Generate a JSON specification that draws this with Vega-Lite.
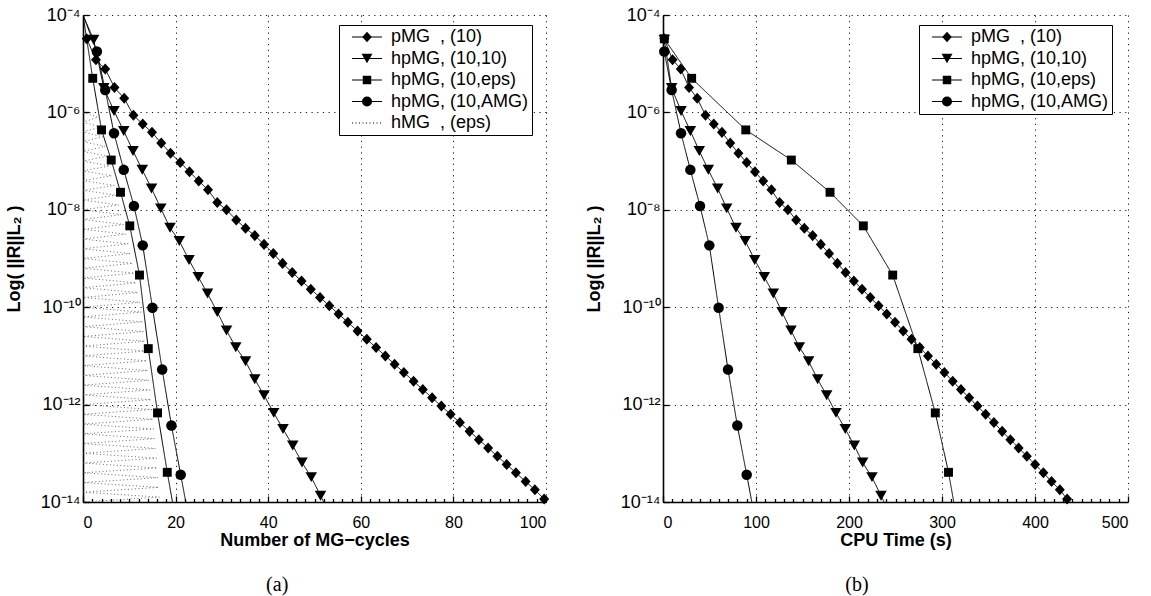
{
  "$schema": "https://vega.github.io/schema/vega-lite/v6.json",
  "background": "white",
  "padding": {"left": 5, "top": 6, "right": 5, "bottom": 5},
  "config": {
    "view": {"stroke": null},
    "font": "Liberation Sans",
    "axis": {"domainColor": "black", "domainWidth": 1.6, "tickColor": "black", "tickWidth": 1.3, "labelFont": "Liberation Sans", "labelFontSize": 16, "labelColor": "black", "titleFont": "Liberation Sans", "titleFontSize": 18, "titleFontWeight": "bold", "titleColor": "black", "gridColor": "black", "gridDash": [1.2, 4.5], "gridWidth": 1, "gridOpacity": 0.9},
    "legend": {"padding": 3, "rowPadding": 3.5, "labelFont": "Liberation Sans", "labelFontSize": 18, "labelColor": "black", "labelOffset": 15, "symbolSize": 100, "symbolStrokeWidth": 1, "symbolOffset": 16}
  },
  "datasets": {
    "leftData": [
      {"series": "pMG\u00a0\u00a0, (10)", "x": 0.8, "y": 3.24e-5}, {"series": "pMG\u00a0\u00a0, (10)", "x": 2.8, "y": 1.2e-5}, {"series": "pMG\u00a0\u00a0, (10)", "x": 4.8, "y": 7.76e-6}, {"series": "pMG\u00a0\u00a0, (10)", "x": 6.8, "y": 3.24e-6}, {"series": "pMG\u00a0\u00a0, (10)", "x": 8.9, "y": 1.95e-6}, {"series": "pMG\u00a0\u00a0, (10)", "x": 10.9, "y": 8.71e-7}, {"series": "pMG\u00a0\u00a0, (10)", "x": 12.9, "y": 5.75e-7}, {"series": "pMG\u00a0\u00a0, (10)", "x": 14.9, "y": 3.89e-7}, {"series": "pMG\u00a0\u00a0, (10)", "x": 16.9, "y": 2.34e-7}, {"series": "pMG\u00a0\u00a0, (10)", "x": 18.9, "y": 1.45e-7},
      {"series": "pMG\u00a0\u00a0, (10)", "x": 21.0, "y": 9.33e-8}, {"series": "pMG\u00a0\u00a0, (10)", "x": 23.0, "y": 6.03e-8}, {"series": "pMG\u00a0\u00a0, (10)", "x": 25.0, "y": 3.89e-8}, {"series": "pMG\u00a0\u00a0, (10)", "x": 27.0, "y": 2.57e-8}, {"series": "pMG\u00a0\u00a0, (10)", "x": 29.0, "y": 1.41e-8}, {"series": "pMG\u00a0\u00a0, (10)", "x": 31.0, "y": 1.0e-8}, {"series": "pMG\u00a0\u00a0, (10)", "x": 33.1, "y": 6.17e-9}, {"series": "pMG\u00a0\u00a0, (10)", "x": 35.1, "y": 4.17e-9}, {"series": "pMG\u00a0\u00a0, (10)", "x": 37.1, "y": 2.95e-9}, {"series": "pMG\u00a0\u00a0, (10)", "x": 39.1, "y": 1.95e-9},
      {"series": "pMG\u00a0\u00a0, (10)", "x": 41.1, "y": 1.26e-9}, {"series": "pMG\u00a0\u00a0, (10)", "x": 43.1, "y": 7.94e-10}, {"series": "pMG\u00a0\u00a0, (10)", "x": 45.2, "y": 5.13e-10}, {"series": "pMG\u00a0\u00a0, (10)", "x": 47.2, "y": 3.47e-10}, {"series": "pMG\u00a0\u00a0, (10)", "x": 49.2, "y": 2.34e-10}, {"series": "pMG\u00a0\u00a0, (10)", "x": 51.2, "y": 1.585e-10}, {"series": "pMG\u00a0\u00a0, (10)", "x": 53.2, "y": 1.07e-10}, {"series": "pMG\u00a0\u00a0, (10)", "x": 55.2, "y": 7.24e-11}, {"series": "pMG\u00a0\u00a0, (10)", "x": 57.2, "y": 4.9e-11}, {"series": "pMG\u00a0\u00a0, (10)", "x": 59.3, "y": 3.24e-11},
      {"series": "pMG\u00a0\u00a0, (10)", "x": 61.3, "y": 2.19e-11}, {"series": "pMG\u00a0\u00a0, (10)", "x": 63.3, "y": 1.48e-11}, {"series": "pMG\u00a0\u00a0, (10)", "x": 65.3, "y": 1.0e-11}, {"series": "pMG\u00a0\u00a0, (10)", "x": 67.3, "y": 6.76e-12}, {"series": "pMG\u00a0\u00a0, (10)", "x": 69.3, "y": 4.57e-12}, {"series": "pMG\u00a0\u00a0, (10)", "x": 71.4, "y": 3.02e-12}, {"series": "pMG\u00a0\u00a0, (10)", "x": 73.4, "y": 2.04e-12}, {"series": "pMG\u00a0\u00a0, (10)", "x": 75.4, "y": 1.38e-12}, {"series": "pMG\u00a0\u00a0, (10)", "x": 77.4, "y": 9.33e-13}, {"series": "pMG\u00a0\u00a0, (10)", "x": 79.4, "y": 6.31e-13},
      {"series": "pMG\u00a0\u00a0, (10)", "x": 81.4, "y": 4.27e-13}, {"series": "pMG\u00a0\u00a0, (10)", "x": 83.5, "y": 2.82e-13}, {"series": "pMG\u00a0\u00a0, (10)", "x": 85.5, "y": 1.905e-13}, {"series": "pMG\u00a0\u00a0, (10)", "x": 87.5, "y": 1.29e-13}, {"series": "pMG\u00a0\u00a0, (10)", "x": 89.5, "y": 8.71e-14}, {"series": "pMG\u00a0\u00a0, (10)", "x": 91.5, "y": 5.89e-14}, {"series": "pMG\u00a0\u00a0, (10)", "x": 93.5, "y": 3.98e-14}, {"series": "pMG\u00a0\u00a0, (10)", "x": 95.6, "y": 2.63e-14}, {"series": "pMG\u00a0\u00a0, (10)", "x": 97.6, "y": 1.78e-14}, {"series": "pMG\u00a0\u00a0, (10)", "x": 99.6, "y": 1.15e-14},
      {"series": "hpMG, (10,10)", "x": 0, "y": 1e-4}, {"series": "hpMG, (10,10)", "x": 2.3, "y": 3.09e-5}, {"series": "hpMG, (10,10)", "x": 4.5, "y": 3.16e-6}, {"series": "hpMG, (10,10)", "x": 6.7, "y": 1.07e-6}, {"series": "hpMG, (10,10)", "x": 8.8, "y": 4.17e-7}, {"series": "hpMG, (10,10)", "x": 10.8, "y": 1.62e-7}, {"series": "hpMG, (10,10)", "x": 12.8, "y": 6.61e-8}, {"series": "hpMG, (10,10)", "x": 14.8, "y": 2.75e-8}, {"series": "hpMG, (10,10)", "x": 16.8, "y": 1.07e-8}, {"series": "hpMG, (10,10)", "x": 18.8, "y": 4.27e-9},
      {"series": "hpMG, (10,10)", "x": 20.8, "y": 2.29e-9}, {"series": "hpMG, (10,10)", "x": 22.9, "y": 9.33e-10}, {"series": "hpMG, (10,10)", "x": 24.9, "y": 4.17e-10}, {"series": "hpMG, (10,10)", "x": 26.9, "y": 1.905e-10}, {"series": "hpMG, (10,10)", "x": 29.0, "y": 7.94e-11}, {"series": "hpMG, (10,10)", "x": 31.0, "y": 3.31e-11}, {"series": "hpMG, (10,10)", "x": 33.0, "y": 1.51e-11}, {"series": "hpMG, (10,10)", "x": 35.1, "y": 7.76e-12}, {"series": "hpMG, (10,10)", "x": 37.1, "y": 3.31e-12}, {"series": "hpMG, (10,10)", "x": 39.1, "y": 1.55e-12},
      {"series": "hpMG, (10,10)", "x": 41.2, "y": 6.76e-13}, {"series": "hpMG, (10,10)", "x": 43.2, "y": 3.16e-13}, {"series": "hpMG, (10,10)", "x": 45.3, "y": 1.445e-13}, {"series": "hpMG, (10,10)", "x": 47.3, "y": 6.46e-14}, {"series": "hpMG, (10,10)", "x": 49.3, "y": 3.24e-14}, {"series": "hpMG, (10,10)", "x": 51.3, "y": 1.35e-14}, {"series": "hpMG, (10,10)", "x": 53.3, "y": 5.6e-15},
      {"series": "hpMG, (10,eps)", "x": 0, "y": 1e-4}, {"series": "hpMG, (10,eps)", "x": 2.1, "y": 5.01e-6}, {"series": "hpMG, (10,eps)", "x": 4.0, "y": 4.37e-7}, {"series": "hpMG, (10,eps)", "x": 6.1, "y": 1.05e-7}, {"series": "hpMG, (10,eps)", "x": 8.1, "y": 2.29e-8}, {"series": "hpMG, (10,eps)", "x": 10.1, "y": 4.68e-9}, {"series": "hpMG, (10,eps)", "x": 12.2, "y": 4.57e-10}, {"series": "hpMG, (10,eps)", "x": 14.1, "y": 1.41e-11}, {"series": "hpMG, (10,eps)", "x": 16.1, "y": 6.76e-13}, {"series": "hpMG, (10,eps)", "x": 18.2, "y": 4.07e-14}, {"series": "hpMG, (10,eps)", "x": 19.7, "y": 6.3e-15},
      {"series": "hpMG, (10,AMG)", "x": 0, "y": 1e-4}, {"series": "hpMG, (10,AMG)", "x": 3.0, "y": 1.78e-5}, {"series": "hpMG, (10,AMG)", "x": 4.8, "y": 2.88e-6}, {"series": "hpMG, (10,AMG)", "x": 6.7, "y": 3.72e-7}, {"series": "hpMG, (10,AMG)", "x": 8.8, "y": 6.61e-8}, {"series": "hpMG, (10,AMG)", "x": 11.0, "y": 1.2e-8}, {"series": "hpMG, (10,AMG)", "x": 12.9, "y": 1.86e-9}, {"series": "hpMG, (10,AMG)", "x": 15.0, "y": 9.77e-11}, {"series": "hpMG, (10,AMG)", "x": 17.1, "y": 5.25e-12}, {"series": "hpMG, (10,AMG)", "x": 19.1, "y": 3.72e-13}, {"series": "hpMG, (10,AMG)", "x": 21.1, "y": 3.63e-14}, {"series": "hpMG, (10,AMG)", "x": 23.1, "y": 3.5e-15}
    ],
    "rightData": [
      {"series": "pMG\u00a0\u00a0, (10)", "x": 1.4, "y": 3.24e-5}, {"series": "pMG\u00a0\u00a0, (10)", "x": 10.3, "y": 1.2e-5}, {"series": "pMG\u00a0\u00a0, (10)", "x": 19.1, "y": 7.76e-6}, {"series": "pMG\u00a0\u00a0, (10)", "x": 28.0, "y": 3.24e-6}, {"series": "pMG\u00a0\u00a0, (10)", "x": 36.8, "y": 1.95e-6}, {"series": "pMG\u00a0\u00a0, (10)", "x": 45.7, "y": 8.71e-7}, {"series": "pMG\u00a0\u00a0, (10)", "x": 54.6, "y": 5.75e-7}, {"series": "pMG\u00a0\u00a0, (10)", "x": 63.4, "y": 3.89e-7}, {"series": "pMG\u00a0\u00a0, (10)", "x": 72.3, "y": 2.34e-7}, {"series": "pMG\u00a0\u00a0, (10)", "x": 81.1, "y": 1.45e-7},
      {"series": "pMG\u00a0\u00a0, (10)", "x": 90.0, "y": 9.33e-8}, {"series": "pMG\u00a0\u00a0, (10)", "x": 98.9, "y": 6.03e-8}, {"series": "pMG\u00a0\u00a0, (10)", "x": 107.7, "y": 3.89e-8}, {"series": "pMG\u00a0\u00a0, (10)", "x": 116.6, "y": 2.57e-8}, {"series": "pMG\u00a0\u00a0, (10)", "x": 125.4, "y": 1.41e-8}, {"series": "pMG\u00a0\u00a0, (10)", "x": 134.3, "y": 1.0e-8}, {"series": "pMG\u00a0\u00a0, (10)", "x": 143.2, "y": 6.17e-9}, {"series": "pMG\u00a0\u00a0, (10)", "x": 152.0, "y": 4.17e-9}, {"series": "pMG\u00a0\u00a0, (10)", "x": 160.9, "y": 2.95e-9}, {"series": "pMG\u00a0\u00a0, (10)", "x": 169.7, "y": 1.95e-9},
      {"series": "pMG\u00a0\u00a0, (10)", "x": 178.6, "y": 1.26e-9}, {"series": "pMG\u00a0\u00a0, (10)", "x": 187.5, "y": 7.94e-10}, {"series": "pMG\u00a0\u00a0, (10)", "x": 196.3, "y": 5.13e-10}, {"series": "pMG\u00a0\u00a0, (10)", "x": 205.2, "y": 3.47e-10}, {"series": "pMG\u00a0\u00a0, (10)", "x": 214.0, "y": 2.34e-10}, {"series": "pMG\u00a0\u00a0, (10)", "x": 222.9, "y": 1.585e-10}, {"series": "pMG\u00a0\u00a0, (10)", "x": 231.8, "y": 1.07e-10}, {"series": "pMG\u00a0\u00a0, (10)", "x": 240.6, "y": 7.24e-11}, {"series": "pMG\u00a0\u00a0, (10)", "x": 249.5, "y": 4.9e-11}, {"series": "pMG\u00a0\u00a0, (10)", "x": 258.3, "y": 3.24e-11},
      {"series": "pMG\u00a0\u00a0, (10)", "x": 267.2, "y": 2.19e-11}, {"series": "pMG\u00a0\u00a0, (10)", "x": 276.1, "y": 1.48e-11}, {"series": "pMG\u00a0\u00a0, (10)", "x": 284.9, "y": 1.0e-11}, {"series": "pMG\u00a0\u00a0, (10)", "x": 293.8, "y": 6.76e-12}, {"series": "pMG\u00a0\u00a0, (10)", "x": 302.6, "y": 4.57e-12}, {"series": "pMG\u00a0\u00a0, (10)", "x": 311.5, "y": 3.02e-12}, {"series": "pMG\u00a0\u00a0, (10)", "x": 320.4, "y": 2.04e-12}, {"series": "pMG\u00a0\u00a0, (10)", "x": 329.2, "y": 1.38e-12}, {"series": "pMG\u00a0\u00a0, (10)", "x": 338.1, "y": 9.33e-13}, {"series": "pMG\u00a0\u00a0, (10)", "x": 346.9, "y": 6.31e-13},
      {"series": "pMG\u00a0\u00a0, (10)", "x": 355.8, "y": 4.27e-13}, {"series": "pMG\u00a0\u00a0, (10)", "x": 364.7, "y": 2.82e-13}, {"series": "pMG\u00a0\u00a0, (10)", "x": 373.5, "y": 1.905e-13}, {"series": "pMG\u00a0\u00a0, (10)", "x": 382.4, "y": 1.29e-13}, {"series": "pMG\u00a0\u00a0, (10)", "x": 391.2, "y": 8.71e-14}, {"series": "pMG\u00a0\u00a0, (10)", "x": 400.1, "y": 5.89e-14}, {"series": "pMG\u00a0\u00a0, (10)", "x": 409.0, "y": 3.98e-14}, {"series": "pMG\u00a0\u00a0, (10)", "x": 417.8, "y": 2.63e-14}, {"series": "pMG\u00a0\u00a0, (10)", "x": 426.7, "y": 1.78e-14}, {"series": "pMG\u00a0\u00a0, (10)", "x": 434.5, "y": 1.15e-14},
      {"series": "hpMG, (10,10)", "x": 1.4, "y": 3.09e-5}, {"series": "hpMG, (10,10)", "x": 9.3, "y": 3.16e-6}, {"series": "hpMG, (10,10)", "x": 19.4, "y": 1.07e-6}, {"series": "hpMG, (10,10)", "x": 29.4, "y": 4.17e-7}, {"series": "hpMG, (10,10)", "x": 39.0, "y": 1.62e-7}, {"series": "hpMG, (10,10)", "x": 48.7, "y": 6.61e-8}, {"series": "hpMG, (10,10)", "x": 58.8, "y": 2.75e-8}, {"series": "hpMG, (10,10)", "x": 68.5, "y": 1.07e-8}, {"series": "hpMG, (10,10)", "x": 78.5, "y": 4.27e-9}, {"series": "hpMG, (10,10)", "x": 88.5, "y": 2.29e-9},
      {"series": "hpMG, (10,10)", "x": 98.6, "y": 9.33e-10}, {"series": "hpMG, (10,10)", "x": 108.9, "y": 4.17e-10}, {"series": "hpMG, (10,10)", "x": 118.6, "y": 1.905e-10}, {"series": "hpMG, (10,10)", "x": 128.0, "y": 7.94e-11}, {"series": "hpMG, (10,10)", "x": 137.6, "y": 3.31e-11}, {"series": "hpMG, (10,10)", "x": 146.6, "y": 1.51e-11}, {"series": "hpMG, (10,10)", "x": 156.6, "y": 7.76e-12}, {"series": "hpMG, (10,10)", "x": 166.3, "y": 3.31e-12}, {"series": "hpMG, (10,10)", "x": 176.0, "y": 1.55e-12}, {"series": "hpMG, (10,10)", "x": 186.0, "y": 6.76e-13},
      {"series": "hpMG, (10,10)", "x": 196.0, "y": 3.16e-13}, {"series": "hpMG, (10,10)", "x": 205.7, "y": 1.445e-13}, {"series": "hpMG, (10,10)", "x": 214.7, "y": 6.46e-14}, {"series": "hpMG, (10,10)", "x": 224.7, "y": 3.24e-14}, {"series": "hpMG, (10,10)", "x": 234.4, "y": 1.35e-14}, {"series": "hpMG, (10,10)", "x": 244.0, "y": 5.6e-15},
      {"series": "hpMG, (10,eps)", "x": 1.4, "y": 3.24e-5}, {"series": "hpMG, (10,eps)", "x": 30.8, "y": 5.01e-6}, {"series": "hpMG, (10,eps)", "x": 89.0, "y": 4.37e-7}, {"series": "hpMG, (10,eps)", "x": 138.0, "y": 1.05e-7}, {"series": "hpMG, (10,eps)", "x": 179.6, "y": 2.29e-8}, {"series": "hpMG, (10,eps)", "x": 215.4, "y": 4.68e-9}, {"series": "hpMG, (10,eps)", "x": 247.0, "y": 4.57e-10}, {"series": "hpMG, (10,eps)", "x": 274.0, "y": 1.41e-11}, {"series": "hpMG, (10,eps)", "x": 292.8, "y": 6.76e-13}, {"series": "hpMG, (10,eps)", "x": 307.0, "y": 4.07e-14}, {"series": "hpMG, (10,eps)", "x": 314.5, "y": 6.3e-15},
      {"series": "hpMG, (10,AMG)", "x": 1.4, "y": 1.78e-5}, {"series": "hpMG, (10,AMG)", "x": 9.3, "y": 2.88e-6}, {"series": "hpMG, (10,AMG)", "x": 19.4, "y": 3.72e-7}, {"series": "hpMG, (10,AMG)", "x": 29.4, "y": 6.61e-8}, {"series": "hpMG, (10,AMG)", "x": 39.8, "y": 1.2e-8}, {"series": "hpMG, (10,AMG)", "x": 49.8, "y": 1.86e-9}, {"series": "hpMG, (10,AMG)", "x": 59.8, "y": 9.77e-11}, {"series": "hpMG, (10,AMG)", "x": 69.9, "y": 5.25e-12}, {"series": "hpMG, (10,AMG)", "x": 79.9, "y": 3.72e-13}, {"series": "hpMG, (10,AMG)", "x": 90.0, "y": 3.63e-14}, {"series": "hpMG, (10,AMG)", "x": 100.0, "y": 3.5e-15}
    ],
    "hmg": [
      {"series": "hMG\u00a0\u00a0, (eps)", "x": 0, "y": 1e-6}, {"series": "hMG\u00a0\u00a0, (eps)", "x": 3.25, "y": 7.94e-7}, {"series": "hMG\u00a0\u00a0, (eps)", "x": 0, "y": 6.31e-7}, {"series": "hMG\u00a0\u00a0, (eps)", "x": 3.75, "y": 5.01e-7}, {"series": "hMG\u00a0\u00a0, (eps)", "x": 0, "y": 3.98e-7}, {"series": "hMG\u00a0\u00a0, (eps)", "x": 4.25, "y": 3.16e-7}, {"series": "hMG\u00a0\u00a0, (eps)", "x": 0, "y": 2.51e-7}, {"series": "hMG\u00a0\u00a0, (eps)", "x": 4.75, "y": 2.0e-7}, {"series": "hMG\u00a0\u00a0, (eps)", "x": 0, "y": 1.585e-7}, {"series": "hMG\u00a0\u00a0, (eps)", "x": 5.25, "y": 1.26e-7},
      {"series": "hMG\u00a0\u00a0, (eps)", "x": 0, "y": 1e-7}, {"series": "hMG\u00a0\u00a0, (eps)", "x": 5.75, "y": 7.94e-8}, {"series": "hMG\u00a0\u00a0, (eps)", "x": 0, "y": 6.31e-8}, {"series": "hMG\u00a0\u00a0, (eps)", "x": 6.25, "y": 5.01e-8}, {"series": "hMG\u00a0\u00a0, (eps)", "x": 0, "y": 3.98e-8}, {"series": "hMG\u00a0\u00a0, (eps)", "x": 6.75, "y": 3.16e-8}, {"series": "hMG\u00a0\u00a0, (eps)", "x": 0, "y": 2.51e-8}, {"series": "hMG\u00a0\u00a0, (eps)", "x": 7.25, "y": 2.0e-8}, {"series": "hMG\u00a0\u00a0, (eps)", "x": 0, "y": 1.585e-8}, {"series": "hMG\u00a0\u00a0, (eps)", "x": 7.75, "y": 1.26e-8},
      {"series": "hMG\u00a0\u00a0, (eps)", "x": 0, "y": 1e-8}, {"series": "hMG\u00a0\u00a0, (eps)", "x": 8.25, "y": 7.94e-9}, {"series": "hMG\u00a0\u00a0, (eps)", "x": 0, "y": 6.31e-9}, {"series": "hMG\u00a0\u00a0, (eps)", "x": 8.75, "y": 5.01e-9}, {"series": "hMG\u00a0\u00a0, (eps)", "x": 0, "y": 3.98e-9}, {"series": "hMG\u00a0\u00a0, (eps)", "x": 9.25, "y": 3.16e-9}, {"series": "hMG\u00a0\u00a0, (eps)", "x": 0, "y": 2.51e-9}, {"series": "hMG\u00a0\u00a0, (eps)", "x": 9.75, "y": 2.0e-9}, {"series": "hMG\u00a0\u00a0, (eps)", "x": 0, "y": 1.585e-9}, {"series": "hMG\u00a0\u00a0, (eps)", "x": 10.25, "y": 1.26e-9},
      {"series": "hMG\u00a0\u00a0, (eps)", "x": 0, "y": 1e-9}, {"series": "hMG\u00a0\u00a0, (eps)", "x": 10.7, "y": 7.94e-10}, {"series": "hMG\u00a0\u00a0, (eps)", "x": 0, "y": 6.31e-10}, {"series": "hMG\u00a0\u00a0, (eps)", "x": 11.1, "y": 5.01e-10}, {"series": "hMG\u00a0\u00a0, (eps)", "x": 0, "y": 3.98e-10}, {"series": "hMG\u00a0\u00a0, (eps)", "x": 11.5, "y": 3.16e-10}, {"series": "hMG\u00a0\u00a0, (eps)", "x": 0, "y": 2.51e-10}, {"series": "hMG\u00a0\u00a0, (eps)", "x": 11.9, "y": 2.0e-10}, {"series": "hMG\u00a0\u00a0, (eps)", "x": 0, "y": 1.585e-10}, {"series": "hMG\u00a0\u00a0, (eps)", "x": 12.3, "y": 1.26e-10},
      {"series": "hMG\u00a0\u00a0, (eps)", "x": 0, "y": 1e-10}, {"series": "hMG\u00a0\u00a0, (eps)", "x": 12.6, "y": 7.94e-11}, {"series": "hMG\u00a0\u00a0, (eps)", "x": 0, "y": 6.31e-11}, {"series": "hMG\u00a0\u00a0, (eps)", "x": 12.9, "y": 5.01e-11}, {"series": "hMG\u00a0\u00a0, (eps)", "x": 0, "y": 3.98e-11}, {"series": "hMG\u00a0\u00a0, (eps)", "x": 13.1, "y": 3.16e-11}, {"series": "hMG\u00a0\u00a0, (eps)", "x": 0, "y": 2.51e-11}, {"series": "hMG\u00a0\u00a0, (eps)", "x": 13.35, "y": 2.0e-11}, {"series": "hMG\u00a0\u00a0, (eps)", "x": 0, "y": 1.585e-11}, {"series": "hMG\u00a0\u00a0, (eps)", "x": 13.6, "y": 1.26e-11},
      {"series": "hMG\u00a0\u00a0, (eps)", "x": 0, "y": 1e-11}, {"series": "hMG\u00a0\u00a0, (eps)", "x": 13.8, "y": 7.94e-12}, {"series": "hMG\u00a0\u00a0, (eps)", "x": 0, "y": 6.31e-12}, {"series": "hMG\u00a0\u00a0, (eps)", "x": 14.0, "y": 5.01e-12}, {"series": "hMG\u00a0\u00a0, (eps)", "x": 0, "y": 3.98e-12}, {"series": "hMG\u00a0\u00a0, (eps)", "x": 14.25, "y": 3.16e-12}, {"series": "hMG\u00a0\u00a0, (eps)", "x": 0, "y": 2.51e-12}, {"series": "hMG\u00a0\u00a0, (eps)", "x": 14.5, "y": 2.0e-12}, {"series": "hMG\u00a0\u00a0, (eps)", "x": 0, "y": 1.585e-12}, {"series": "hMG\u00a0\u00a0, (eps)", "x": 14.7, "y": 1.26e-12},
      {"series": "hMG\u00a0\u00a0, (eps)", "x": 0, "y": 1e-12}, {"series": "hMG\u00a0\u00a0, (eps)", "x": 14.9, "y": 7.94e-13}, {"series": "hMG\u00a0\u00a0, (eps)", "x": 0, "y": 6.31e-13}, {"series": "hMG\u00a0\u00a0, (eps)", "x": 15.1, "y": 5.01e-13}, {"series": "hMG\u00a0\u00a0, (eps)", "x": 0, "y": 3.98e-13}, {"series": "hMG\u00a0\u00a0, (eps)", "x": 15.3, "y": 3.16e-13}, {"series": "hMG\u00a0\u00a0, (eps)", "x": 0, "y": 2.51e-13}, {"series": "hMG\u00a0\u00a0, (eps)", "x": 15.5, "y": 2.0e-13}, {"series": "hMG\u00a0\u00a0, (eps)", "x": 0, "y": 1.585e-13}, {"series": "hMG\u00a0\u00a0, (eps)", "x": 15.7, "y": 1.26e-13},
      {"series": "hMG\u00a0\u00a0, (eps)", "x": 0, "y": 1e-13}, {"series": "hMG\u00a0\u00a0, (eps)", "x": 15.9, "y": 7.94e-14}, {"series": "hMG\u00a0\u00a0, (eps)", "x": 0, "y": 6.31e-14}, {"series": "hMG\u00a0\u00a0, (eps)", "x": 16.05, "y": 5.01e-14}, {"series": "hMG\u00a0\u00a0, (eps)", "x": 0, "y": 3.98e-14}, {"series": "hMG\u00a0\u00a0, (eps)", "x": 16.2, "y": 3.16e-14}, {"series": "hMG\u00a0\u00a0, (eps)", "x": 0, "y": 2.51e-14}, {"series": "hMG\u00a0\u00a0, (eps)", "x": 16.35, "y": 2.0e-14}, {"series": "hMG\u00a0\u00a0, (eps)", "x": 0, "y": 1.585e-14}, {"series": "hMG\u00a0\u00a0, (eps)", "x": 16.5, "y": 1.26e-14}, {"series": "hMG\u00a0\u00a0, (eps)", "x": 0, "y": 1e-14}
    ]
  },
  "spacing": 35,
  "resolve": {"scale": {"x": "independent", "y": "independent", "shape": "independent", "strokeDash": "independent"}, "legend": {"shape": "independent", "strokeDash": "independent"}, "axis": {"x": "independent", "y": "independent"}},
  "hconcat": [
    {
      "width": 463, "height": 487,
      "title": {"text": "(a)", "orient": "bottom", "anchor": "middle", "frame": "bounds", "font": "Liberation Serif", "fontSize": 20, "fontWeight": "normal", "color": "black", "offset": 26},
      "resolve": {"axis": {"x": "independent"}},
      "layer": [
        {
          "data": {"name": "leftData"},
          "mark": {"type": "line", "clip": true, "color": "black", "strokeWidth": 1},
          "encoding": {
            "x": {"field": "x", "type": "quantitative", "scale": {"domain": [0, 100], "nice": false}, "axis": {"orient": "bottom", "values": [2,4,6,8,10,12,14,16,18,22,24,26,28,30,32,34,36,38,42,44,46,48,50,52,54,56,58,62,64,66,68,70,72,74,76,78,82,84,86,88,90,92,94,96,98], "tickSize": -3.5, "labels": false, "domain": false, "grid": false, "title": null}},
            "y": {"field": "y", "type": "quantitative", "scale": {"type": "log", "domain": [1e-14, 1e-4], "nice": false}},
            "detail": {"field": "series"},
            "strokeDash": {"field": "series", "type": "nominal",
              "sort": ["pMG\u00a0\u00a0, (10)", "hpMG, (10,10)", "hpMG, (10,eps)", "hpMG, (10,AMG)", "hMG\u00a0\u00a0, (eps)"],
              "scale": {"range": [[1, 0], [1, 0], [1, 0], [1, 0], [1, 2.5]]},
              "legend": {"title": null, "orient": "none", "legendX": 256, "legendY": 10, "zindex": 1, "symbolType": "M-3,0H3", "strokeColor": "black", "fillColor": "white", "labelExpr": "datum.label + '\u00a0\u00a0\u00a0\u00a0\u00a0\u00a0'"}
            }
          }
        },
        {
          "layer": [
            {
              "data": {"name": "hmg"},
              "mark": {"type": "line", "clip": true, "color": "#444", "strokeWidth": 0.8},
              "encoding": {
                "x": {"field": "x", "type": "quantitative", "scale": {"domain": [0, 100], "nice": false}},
                "y": {"field": "y", "type": "quantitative", "scale": {"type": "log", "domain": [1e-14, 1e-4], "nice": false}},
                "strokeDash": {"field": "series", "type": "nominal", "sort": ["pMG\u00a0\u00a0, (10)", "hpMG, (10,10)", "hpMG, (10,eps)", "hpMG, (10,AMG)", "hMG\u00a0\u00a0, (eps)"]},
                "order": {"value": null}
              }
            },
            {
              "data": {"name": "leftData"},
              "transform": [{"filter": "datum.x > 0 && datum.y >= 1e-14"}],
              "mark": {"type": "point", "filled": true, "color": "black", "opacity": 1, "size": 110},
              "encoding": {
                "x": {"field": "x", "type": "quantitative", "scale": {"domain": [0, 100], "nice": false}, "axis": {"orient": "bottom", "values": [0, 20, 40, 60, 80, 100], "tickSize": -6, "labelPadding": 18, "grid": true, "title": "Number of MG\u2212cycles", "titlePadding": 1}},
                "y": {"field": "y", "type": "quantitative", "scale": {"type": "log", "domain": [1e-14, 1e-4], "nice": false}, "axis": {"orient": "left", "values": [1e-14, 1e-12, 1e-10, 1e-8, 1e-6, 1e-4], "tickSize": -6, "labelPadding": 9, "labelFontSize": 18, "grid": true, "title": "Log( ||R||L\u2082 )", "titlePadding": 17, "labelExpr": "'10' + (datum.value > 5e-5 ? '\u207b\u2074' : datum.value > 5e-7 ? '\u207b\u2076' : datum.value > 5e-9 ? '\u207b\u2078' : datum.value > 5e-11 ? '\u207b\u00b9\u2070' : datum.value > 5e-13 ? '\u207b\u00b9\u00b2' : '\u207b\u00b9\u2074')"}},
                "shape": {"field": "series", "type": "nominal",
                  "scale": {"domain": ["pMG\u00a0\u00a0, (10)", "hpMG, (10,10)", "hpMG, (10,eps)", "hpMG, (10,AMG)", "hMG\u00a0\u00a0, (eps)"],
                            "range": ["M0,-1.05L0.95,0L0,1.05L-0.95,0Z", "M-1.1,-0.95H1.1L0,0.95Z", "M-0.85,-0.85H0.85V0.85H-0.85Z", "circle", "M0,0"]},
                  "legend": {"title": null, "orient": "none", "legendX": 256, "legendY": 10, "zindex": 2, "strokeColor": "transparent", "fillColor": "transparent", "labelOpacity": 0, "labelExpr": "datum.label + '\u00a0\u00a0\u00a0\u00a0\u00a0\u00a0'"}
                }
              }
            }
          ]
        }
      ]
    },
    {
      "width": 465, "height": 487,
      "title": {"text": "(b)", "orient": "bottom", "anchor": "middle", "frame": "bounds", "font": "Liberation Serif", "fontSize": 20, "fontWeight": "normal", "color": "black", "offset": 26},
      "resolve": {"axis": {"x": "independent"}},
      "layer": [
        {
          "data": {"name": "rightData"},
          "mark": {"type": "line", "clip": true, "color": "black", "strokeWidth": 1},
          "encoding": {
            "x": {"field": "x", "type": "quantitative", "scale": {"domain": [0, 500], "nice": false}, "axis": {"orient": "bottom", "values": [10,20,30,40,50,60,70,80,90,110,120,130,140,150,160,170,180,190,210,220,230,240,250,260,270,280,290,310,320,330,340,350,360,370,380,390,410,420,430,440,450,460,470,480,490], "tickSize": -3.5, "labels": false, "domain": false, "grid": false, "title": null}},
            "y": {"field": "y", "type": "quantitative", "scale": {"type": "log", "domain": [1e-14, 1e-4], "nice": false}},
            "detail": {"field": "series"},
            "strokeDash": {"field": "series", "type": "nominal",
              "sort": ["pMG\u00a0\u00a0, (10)", "hpMG, (10,10)", "hpMG, (10,eps)", "hpMG, (10,AMG)"],
              "scale": {"range": [[1, 0], [1, 0], [1, 0], [1, 0]]},
              "legend": {"title": null, "orient": "none", "legendX": 256, "legendY": 10, "zindex": 1, "symbolType": "M-3,0H3", "strokeColor": "black", "fillColor": "white", "labelExpr": "datum.label + '\u00a0\u00a0\u00a0\u00a0\u00a0\u00a0'"}
            }
          }
        },
        {
          "layer": [
            {
              "data": {"name": "rightData"},
              "transform": [{"filter": "datum.x > 0 && datum.y >= 1e-14"}],
              "mark": {"type": "point", "filled": true, "color": "black", "opacity": 1, "size": 110},
              "encoding": {
                "x": {"field": "x", "type": "quantitative", "scale": {"domain": [0, 500], "nice": false}, "axis": {"orient": "bottom", "values": [0, 100, 200, 300, 400, 500], "tickSize": -6, "labelPadding": 18, "grid": true, "title": "CPU Time (s)", "titlePadding": 1}},
                "y": {"field": "y", "type": "quantitative", "scale": {"type": "log", "domain": [1e-14, 1e-4], "nice": false}, "axis": {"orient": "left", "values": [1e-14, 1e-12, 1e-10, 1e-8, 1e-6, 1e-4], "tickSize": -6, "labelPadding": 9, "labelFontSize": 18, "grid": true, "title": "Log( ||R||L\u2082 )", "titlePadding": 17, "labelExpr": "'10' + (datum.value > 5e-5 ? '\u207b\u2074' : datum.value > 5e-7 ? '\u207b\u2076' : datum.value > 5e-9 ? '\u207b\u2078' : datum.value > 5e-11 ? '\u207b\u00b9\u2070' : datum.value > 5e-13 ? '\u207b\u00b9\u00b2' : '\u207b\u00b9\u2074')"}},
                "shape": {"field": "series", "type": "nominal",
                  "scale": {"domain": ["pMG\u00a0\u00a0, (10)", "hpMG, (10,10)", "hpMG, (10,eps)", "hpMG, (10,AMG)"],
                            "range": ["M0,-1.05L0.95,0L0,1.05L-0.95,0Z", "M-1.1,-0.95H1.1L0,0.95Z", "M-0.85,-0.85H0.85V0.85H-0.85Z", "circle"]},
                  "legend": {"title": null, "orient": "none", "legendX": 256, "legendY": 10, "zindex": 2, "strokeColor": "transparent", "fillColor": "transparent", "labelOpacity": 0, "labelExpr": "datum.label + '\u00a0\u00a0\u00a0\u00a0\u00a0\u00a0'"}
                }
              }
            }
          ]
        }
      ]
    }
  ]
}
